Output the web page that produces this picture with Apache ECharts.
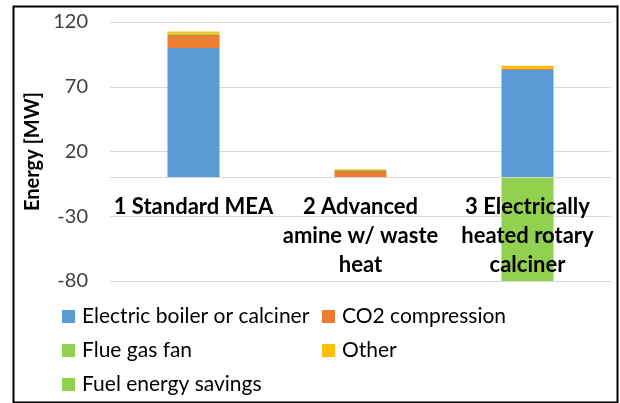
<!DOCTYPE html>
<html>
<head>
<meta charset="utf-8">
<script src="https://cdn.jsdelivr.net/npm/echarts@6/dist/echarts.min.js"></script>
<style>
  html, body { margin: 0; padding: 0; background: #fff; }
  #chart { width: 620px; height: 403px; }
</style>
</head>
<body>
<div id="chart"></div>
<script>
// categories and series values (MW)
const categories = ['1 Standard MEA', '2 Advanced\namine w/ waste\nheat', '3 Electrically\nheated rotary\ncalciner']
const boilerValues = [100, 0, 83]
const co2Values = [10, 5, 1]
const fanValues = [1.2, 1, 0.3]
const otherValues = [1.4, 0.2, 2]
const savingsValues = [0, 0, -80]
const yTicks = { min: -80, max: 120, interval: 50 }

const FONT = 'Lato, "Open Sans", sans-serif'
const colors = {
  boiler: '#5B9BD5',
  co2: '#ED7D31',
  fan: '#92D050',
  other: '#FFC000',
  savings: '#92D050'
}

const chart = echarts.init(document.getElementById('chart'))

const mkSeries = (name, data, color) => ({
  name,
  type: 'bar',
  stack: 'energy',
  data,
  barWidth: 52,
  itemStyle: { color },
  emphasis: { disabled: true }
})

const legendCommon = {
  orient: 'vertical',
  icon: 'rect',
  padding: 0,
  itemWidth: 13,
  itemHeight: 13,
  itemGap: 13,
  textStyle: { fontFamily: FONT, fontSize: 21, lineHeight: 20, color: '#000', padding: [0, 0, 0, 2] },
  selectedMode: false
}

chart.setOption({
  animation: false,
  textStyle: { fontFamily: FONT },
  grid: { left: 110, right: 9, top: 22, bottom: 122 },
  legend: [
    { ...legendCommon, left: 62, top: 306, data: ['Electric boiler or calciner', 'Flue gas fan', 'Fuel energy savings'] },
    { ...legendCommon, left: 322, top: 306, data: ['CO2 compression', 'Other'] }
  ],
  graphic: [{
    type: 'rect',
    left: 11, top: 4,
    shape: { width: 604, height: 396 },
    style: { fill: 'none', stroke: '#000', lineWidth: 2 },
    silent: true
  }],
  xAxis: {
    type: 'category',
    data: categories,
    z: 10,
    axisLine: { show: true, onZero: false, lineStyle: { color: '#D9D9D9', width: 1 } },
    axisTick: { show: false },
    axisLabel: {
      interval: 0,
      margin: 15,
      fontFamily: FONT,
      fontSize: 22,
      fontWeight: 'bold',
      color: '#000',
      lineHeight: 29
    }
  },
  yAxis: {
    type: 'value',
    min: yTicks.min,
    max: yTicks.max,
    interval: yTicks.interval,
    name: 'Energy [MW]',
    nameLocation: 'middle',
    nameGap: 60,
    nameTextStyle: { fontFamily: FONT, fontSize: 20, fontWeight: 'bold', color: '#000' },
    axisLine: { show: false },
    axisTick: { show: false },
    axisLabel: { fontFamily: FONT, fontSize: 20, color: '#404040', margin: 22 },
    splitLine: { lineStyle: { color: '#D9D9D9', width: 1 } }
  },
  series: [
    mkSeries('Electric boiler or calciner', boilerValues, colors.boiler),
    mkSeries('CO2 compression', co2Values, colors.co2),
    mkSeries('Flue gas fan', fanValues, colors.fan),
    mkSeries('Other', otherValues, colors.other),
    mkSeries('Fuel energy savings', savingsValues, colors.savings)
  ]
})

// move the category axis up to the zero line (onZero doesn't kick in here)
const zeroY = chart.convertToPixel({ yAxisIndex: 0 }, 0)
const bottomY = chart.convertToPixel({ yAxisIndex: 0 }, yTicks.min)
chart.setOption({ xAxis: { offset: zeroY - bottomY } })
</script>
</body>
</html>
